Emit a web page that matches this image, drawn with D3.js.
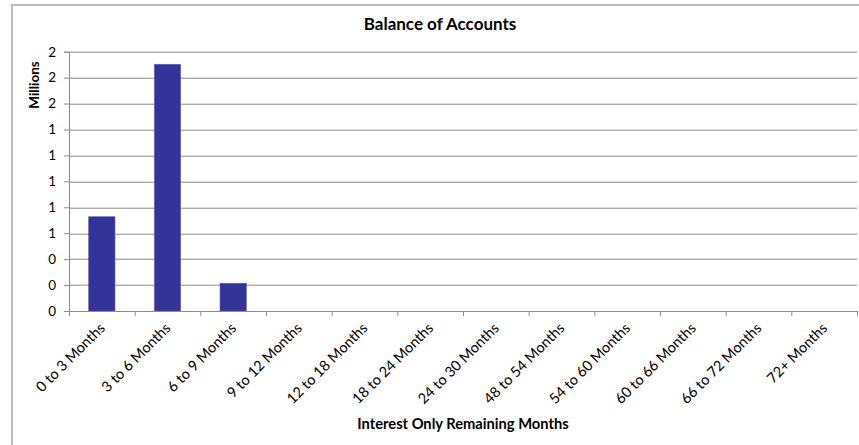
<!DOCTYPE html>
<html>
<head>
<meta charset="utf-8">
<script src="https://cdn.jsdelivr.net/npm/d3@7"></script>
<style>
  body { margin: 0; background: #fff; }
  svg text { font-family: Lato, "Open Sans", sans-serif; fill: #000; }
</style>
</head>
<body>
<div id="chart"></div>
<script>
// Datos del gráfico
const categories = ['0 to 3 Months', '3 to 6 Months', '6 to 9 Months', '9 to 12 Months',
  '12 to 18 Months', '18 to 24 Months', '24 to 30 Months', '48 to 54 Months',
  '54 to 60 Months', '60 to 66 Months', '66 to 72 Months', '72+ Months'];
const balances = [727000, 1903000, 214000, 0, 0, 0, 0, 0, 0, 0, 0, 0];
const yTicks = [0, 200000, 400000, 600000, 800000, 1000000, 1200000, 1400000, 1600000, 1800000, 2000000];

const W = 859, H = 445;
const margin = { top: 51.7, right: 2, bottom: 134, left: 69 };
const width = 857 - margin.left;
const height = 311 - margin.top;

const svg = d3.select('#chart').append('svg')
  .attr('width', W)
  .attr('height', H);

// Marco exterior
svg.append('path')
  .attr('d', `M12,${H} L12,5 L${W},5`)
  .attr('fill', 'none')
  .attr('stroke', '#bdbdbd')
  .attr('stroke-width', 2);

const g = svg.append('g')
  .attr('transform', `translate(${margin.left},${margin.top})`);

const x = d3.scaleBand().domain(categories).range([0, width]).paddingInner(0.6).paddingOuter(0.3);
const xTicks = d3.scaleBand().domain(categories).range([0, width]);
const y = d3.scaleLinear().domain([0, 2000000]).range([height, 0]);

// Líneas de cuadrícula
g.append('g')
  .selectAll('line')
  .data(yTicks.filter(d => d > 0))
  .enter()
  .append('line')
  .attr('x1', 0)
  .attr('x2', width)
  .attr('y1', d => Math.round(y(d)) + 0.5)
  .attr('y2', d => Math.round(y(d)) + 0.5)
  .attr('stroke', '#8c8c8c');

// Barras
g.append('g')
  .selectAll('rect')
  .data(categories.map((c, i) => ({ c, v: balances[i] })).filter(d => d.v > 0))
  .enter()
  .append('rect')
  .attr('x', d => x(d.c))
  .attr('y', d => y(d.v))
  .attr('width', x.bandwidth())
  .attr('height', d => height - y(d.v))
  .attr('fill', '#333399')
  .attr('stroke', '#5a5ab0')
  .attr('stroke-width', 0.6);

// Eje Y
const yAxis = g.append('g')
  .call(d3.axisLeft(y).tickValues(yTicks).tickSize(5).tickPadding(8)
    .tickFormat(d => d3.format('.0f')(d / 1000000)));
yAxis.select('.domain').attr('stroke', '#8c8c8c');
yAxis.selectAll('.tick line').attr('stroke', '#8c8c8c');
yAxis.selectAll('text').attr('font-size', 13.5).attr('fill', '#000');

// Eje X
const xAxis = g.append('g')
  .attr('transform', `translate(0,${height})`)
  .call(d3.axisBottom(xTicks).tickSize(0).tickFormat(''));
xAxis.select('.domain').attr('stroke', '#8c8c8c');

g.append('g')
  .selectAll('line')
  .data(categories.concat(['end']))
  .enter()
  .append('line')
  .attr('x1', (d, i) => i * xTicks.step() + 0.5)
  .attr('x2', (d, i) => i * xTicks.step() + 0.5)
  .attr('y1', height)
  .attr('y2', height + 5)
  .attr('stroke', '#8c8c8c');

g.append('g')
  .selectAll('text')
  .data(categories)
  .enter()
  .append('text')
  .attr('transform', d => `translate(${xTicks(d) + xTicks.bandwidth() / 2 + 4},${height + 18}) rotate(-45)`)
  .attr('text-anchor', 'end')
  .attr('font-size', 14.5)
  .text(d => d);

// Títulos
svg.append('text')
  .attr('x', 440)
  .attr('y', 30)
  .attr('text-anchor', 'middle')
  .attr('font-size', 17)
  .attr('font-weight', 'bold')
  .text('Balance of Accounts');

svg.append('text')
  .attr('transform', 'translate(39,85) rotate(-90)')
  .attr('text-anchor', 'middle')
  .attr('font-size', 13.5)
  .attr('font-weight', 'bold')
  .text('Millions');

svg.append('text')
  .attr('x', 463)
  .attr('y', 429)
  .attr('text-anchor', 'middle')
  .attr('font-size', 14.7)
  .attr('font-weight', 'bold')
  .text('Interest Only Remaining Months');
</script>
</body>
</html>
